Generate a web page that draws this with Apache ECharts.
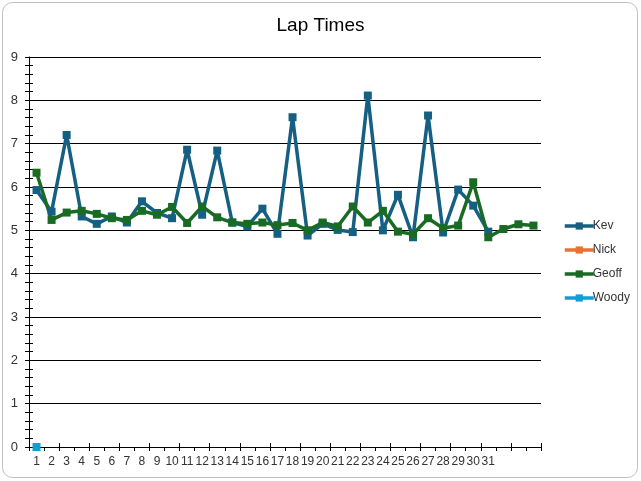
<!DOCTYPE html>
<html>
<head>
<meta charset="utf-8">
<script src="https://cdn.jsdelivr.net/npm/echarts@6/dist/echarts.min.js"></script>
<style>html,body{margin:0;padding:0;background:#fff}#c{width:641px;height:481px}</style>
</head>
<body>
<div id="c"></div>
<script>
const categories = ['1','2','3','4','5','6','7','8','9','10','11','12','13','14','15','16','17','18','19','20','21','22','23','24','25','26','27','28','29','30','31','','',''];
const kev = [5.93,5.43,7.2,5.32,5.15,5.32,5.18,5.67,5.40,5.28,6.86,5.36,6.84,5.18,5.09,5.50,4.92,7.61,4.88,5.15,5.01,4.96,8.11,5.0,5.82,4.84,7.65,4.95,5.94,5.57,4.97,null,null,null];
const nick = [];
const geoff = [6.33,5.24,5.41,5.45,5.38,5.28,5.24,5.45,5.36,5.54,5.17,5.55,5.30,5.18,5.15,5.18,5.12,5.17,5.0,5.18,5.09,5.55,5.18,5.45,4.97,4.91,5.28,5.05,5.11,6.11,4.84,5.03,5.14,5.11];
const woody = [0];
const yTicks = {min:0, max:9, interval:1};

const chart = echarts.init(document.getElementById('c'));
const font = 'Liberation Sans, Arial, sans-serif';
const tickStyle = {color:'#000', width:1};
function mkSeries(name, data, color){
  return {name, type:'line', data, symbol:'rect', symbolSize:8, showSymbol:true,
    lineStyle:{color, width:3.5}, itemStyle:{color}, connectNulls:false, clip:false};
}
chart.setOption({
  animation:false,
  backgroundColor:'#fff',
  graphic:[{type:'rect', shape:{x:2.5,y:2.5,width:635,height:475,r:10}, style:{fill:'none', stroke:'#bfbfbf', lineWidth:1}, silent:true, z:-1}],
  title:{text:'Lap Times', left:'center', top:11, textStyle:{fontFamily:font, fontSize:19, fontWeight:'normal', color:'#000'}},
  grid:{left:29, right:100, top:57, bottom:34, containLabel:false},
  legend:{orient:'vertical', left:558, top:215, itemWidth:29, itemHeight:9, itemGap:12,
    lineStyle:{width:3.5},
    textStyle:{fontFamily:font, fontSize:12, color:'#333', padding:[0,0,0,-6]},
    data:['Kev','Nick','Geoff','Woody']},
  xAxis:[
    {type:'category', data:categories, boundaryGap:true,
     axisLine:{lineStyle:{color:'#000', width:1}},
     axisTick:{show:true, length:4, lineStyle:tickStyle},
     axisLabel:{interval:0, fontFamily:font, fontSize:12, color:'#333', margin:9},
     splitLine:{show:false}},
    {type:'category', data:categories, boundaryGap:true, position:'bottom',
     axisLine:{show:false}, axisTick:{show:true, inside:true, length:4, lineStyle:tickStyle},
     axisLabel:{show:false}, splitLine:{show:false}}
  ],
  yAxis:[
    {type:'value', min:yTicks.min, max:yTicks.max, interval:yTicks.interval,
     axisLine:{show:true, lineStyle:{color:'#000', width:1}},
     axisTick:{show:true, length:4, lineStyle:tickStyle},
     minorTick:{show:true, splitNumber:5, length:4, lineStyle:tickStyle},
     axisLabel:{fontFamily:font, fontSize:13, color:'#333', margin:11},
     splitLine:{show:true, lineStyle:{color:'#000', width:1}}},
    {type:'value', min:yTicks.min, max:yTicks.max, interval:yTicks.interval, position:'left',
     axisLine:{show:false},
     axisTick:{show:true, inside:true, length:4, lineStyle:tickStyle},
     minorTick:{show:true, splitNumber:5, length:4, lineStyle:tickStyle},
     axisLabel:{show:false}, splitLine:{show:false}}
  ],
  series:[
    mkSeries('Kev', kev, '#156082'),
    mkSeries('Nick', nick, '#E97132'),
    mkSeries('Geoff', geoff, '#196B24'),
    mkSeries('Woody', woody, '#0F9ED5')
  ]
});
</script>
</body>
</html>
